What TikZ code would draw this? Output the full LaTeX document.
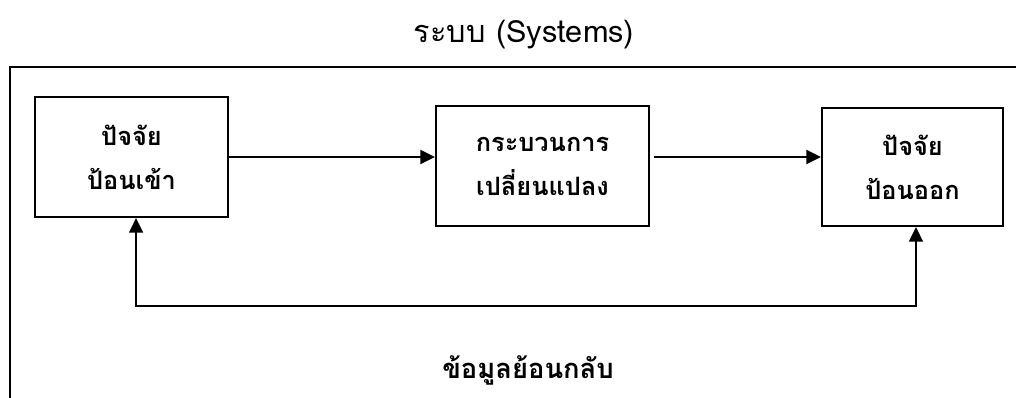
\documentclass[tikz,border=0pt]{standalone}
\usepackage{fontspec}
\newfontfamily\thaifont[Script=Thai]{Loma}
\usepackage{tikz}
\usetikzlibrary{shapes,arrows,arrows.meta,positioning,calc}

\tikzset{
    stagebox/.style={draw=black, line width=1.6pt, minimum height=90pt, align=center,
        font=\thaifont\bfseries\fontsize{19}{33}\selectfont},
    flowarrow/.style={line width=1.6pt, -{Triangle[length=11pt,width=10.5pt]}},
    backarrow/.style={line width=1.2pt, {Triangle[length=11pt,width=10.5pt]}-{Triangle[length=11pt,width=10.5pt]}}
}

\begin{document}
\begin{tikzpicture}[x=0.75pt, y=-0.75pt]
            \useasboundingbox (0,0) rectangle (1016,398);
            % title above the frame
            \node[font=\thaifont\fontsize{23}{26}\selectfont] (title) at (524,35) {ระบบ (Systems)};
            % outer frame of the system, cut by the page on the right and below
            \draw[line width=2pt] (1016,67) -- (10,67) -- (10,398);
            % draw the three stages
            \node[stagebox, minimum width=144.75pt] (input) at (131.5,157) {ปัจจัย\\ป้อนเข้า};
            \node[stagebox, minimum width=159.75pt] (process) at (542.5,166) {กระบวนการ\\เปลี่ยนแปลง};
            \node[stagebox, minimum width=135.75pt, minimum height=88.5pt] (output) at (912.5,167) {ปัจจัย\\ป้อนออก};
            % draw arrows from stage to stage
            \draw[flowarrow] (input.east) -- (input.east -| process.west);
            \draw[flowarrow] ([xshift=3pt]input.east -| process.east) -- (input.east -| output.west);
            % draw feedback loop under the stages
            \coordinate (loopmid) at (526,306);
            \draw[backarrow] ([xshift=3.4pt]input.south) |- (loopmid) -| ([xshift=2.6pt]output.south);
            \node[font=\thaifont\bfseries\fontsize{20.5}{24}\selectfont] (feedback) at (528,370) {ข้อมูลย้อนกลับ};
        \end{tikzpicture}
\end{document}
